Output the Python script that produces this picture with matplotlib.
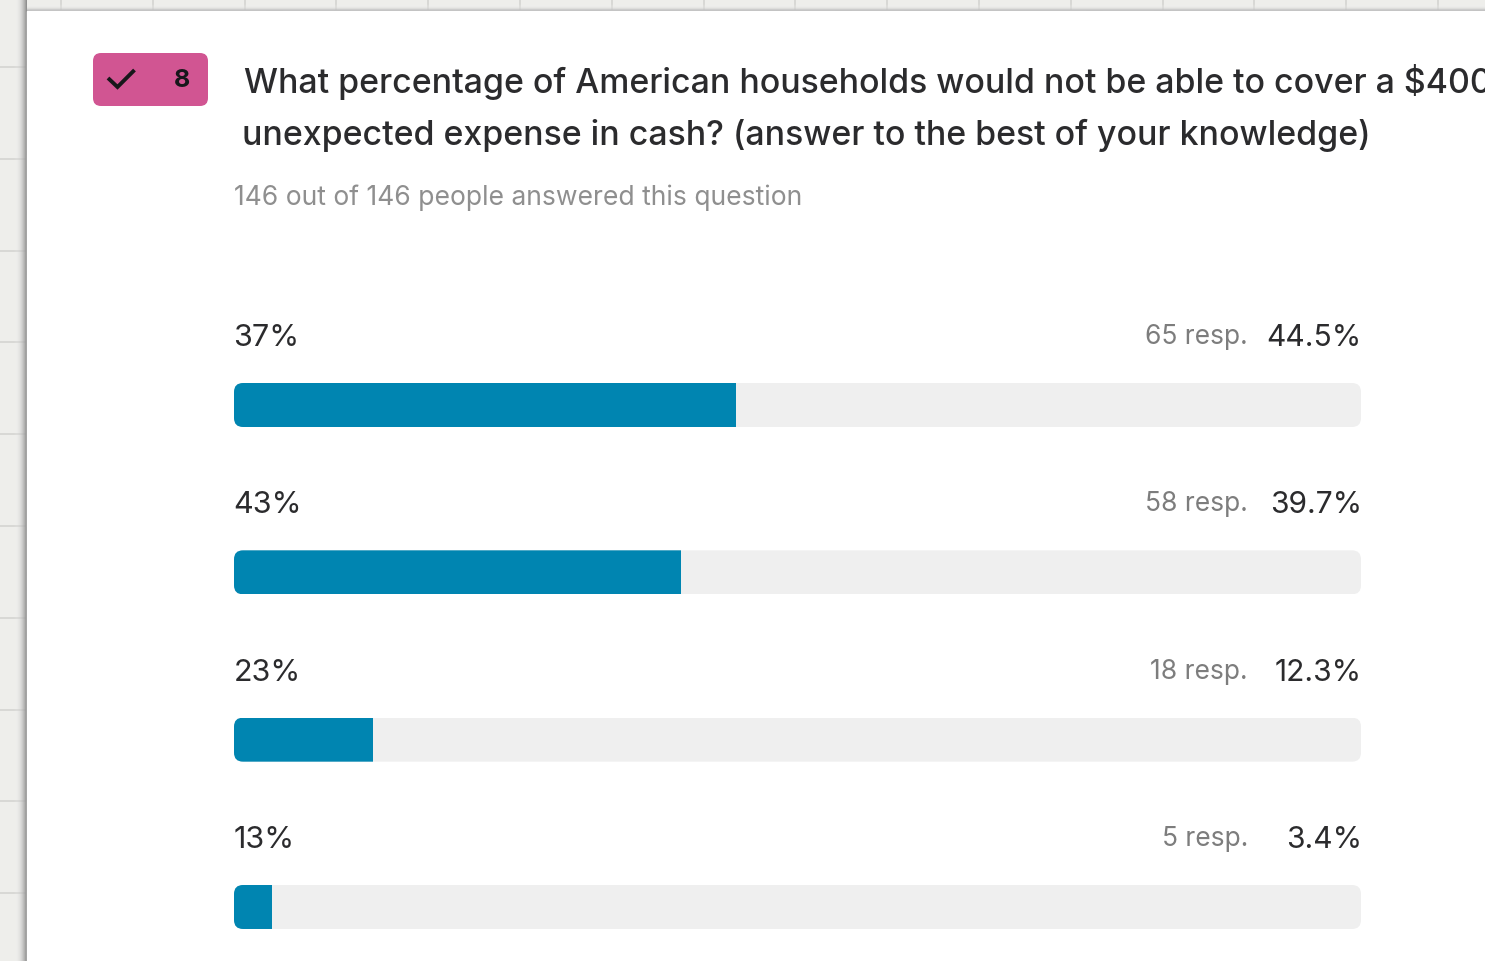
import numpy as np
import matplotlib
matplotlib.use("Agg")
import matplotlib.pyplot as plt
from matplotlib.patches import FancyBboxPatch, Rectangle

plt.rcParams['font.family'] = ['Inter', 'DejaVu Sans']

# Survey results
answers = ["37%", "43%", "23%", "13%"]
responses = [65, 58, 18, 5]
shares = [44.5, 39.7, 12.3, 3.4]
question = ["What percentage of American households would not be able to cover a $400",
            "unexpected expense in cash? (answer to the best of your knowledge)"]
subtitle = "146 out of 146 people answered this question"
question_number = "8"

W, H = 1485, 962
BAR_COLOR = "#0085b1"
TRACK_COLOR = "#efefef"
TEXT_COLOR = "#2b2b2d"
PINK = "#d15592"

fig = plt.figure(figsize=(W / 100, H / 100), dpi=100)

# page layer, measured in pixels from the top left
bg = fig.add_axes([0, 0, 1, 1])
bg.set_xlim(0, W)
bg.set_ylim(H, 0)
bg.axis("off")
bg.add_patch(Rectangle((0, 0), W, H, color="#eeeeeb", zorder=0))
for x in np.arange(61, W, 91.8):
    bg.plot([x, x], [0, 12], color="#d8d8d5", lw=1.4, zorder=1)
for y in np.arange(68, H, 91.8):
    bg.plot([0, 28], [y, y], color="#d8d8d5", lw=1.4, zorder=1)

# soft shadow around the card
left_shadow = np.linspace(0, 1, 14)[None, :] ** 1.2
bg.imshow(left_shadow, extent=(13, 27, H, 0), cmap="gray_r", vmin=0, vmax=2.3,
          alpha=left_shadow, aspect="auto", interpolation="bilinear", zorder=2)
top_shadow = np.linspace(0, 1, 8)[:, None] ** 1.5
bg.imshow(top_shadow, extent=(27, W, 12, 4), origin="upper", cmap="gray_r", vmin=0, vmax=3.5,
          alpha=top_shadow, aspect="auto", interpolation="bilinear", zorder=2)
bg.set_xlim(0, W)
bg.set_ylim(H, 0)

bg.add_patch(Rectangle((27, 12), W - 27, H - 11, color="white", zorder=3))

# question badge
bg.add_patch(FancyBboxPatch((100, 61), 101, 39, boxstyle="round,pad=7,rounding_size=8",
                            fc=PINK, ec="none", zorder=4))
bg.plot([108, 117.5, 134.5], [79, 88, 71], color="#17171a", lw=2.8, zorder=5,
        solid_capstyle="butt", solid_joinstyle="miter")
bg.text(182, 80.5, question_number, fontsize=18, fontweight="bold", color="#17171a",
        ha="center", va="center", zorder=5)

# question and answer count
bg.text(243.5, 81.5, question[0], fontsize=24.4, fontweight="medium", color=TEXT_COLOR,
        va="center", zorder=5)
bg.text(242.5, 135, question[1], fontsize=24.4, fontweight="medium", color=TEXT_COLOR,
        va="center", zorder=5)
bg.text(234, 198, subtitle, fontsize=19.05, color="#8f8f8f", va="center", zorder=5)

# bars: 0-100% spans the track width, one row every 167.33 px
ax = fig.add_axes([234 / W, 0, (1361 - 234) / W, (H - 322.3) / H])
ax.set_xlim(0, 100)
ax.set_ylim(3.323, -0.5)
ax.axis("off")
ax.patch.set_alpha(0)

for i, (answer, n, share) in enumerate(zip(answers, responses, shares)):
    track = ax.barh(i, 100, height=0.263, color=TRACK_COLOR, zorder=1)[0]
    fill = ax.barh(i, share, height=0.263, color=BAR_COLOR, zorder=2)[0]
    center = 406 + 167.33 * i
    # rounded ends come from clipping to the track outline
    outline = FancyBboxPatch((234 + 9, center - 22 + 9), 1127 - 18, 44 - 18,
                             boxstyle="round,pad=9,rounding_size=9",
                             transform=bg.transData, fc="none", ec="none")
    track.set_clip_path(outline)
    fill.set_clip_path(outline)

    ax.annotate(answer, (0, i), xytext=(-0.5, 68), textcoords="offset pixels", fontsize=22,
                color=TEXT_COLOR, va="center", ha="left", annotation_clip=False)
    ax.annotate(f"{share}%", (100, i), xytext=(1, 68), textcoords="offset pixels", fontsize=21.6,
                color=TEXT_COLOR, va="center", ha="right", annotation_clip=False)
    ax.annotate(f"{n} resp.", (100, i), xytext=(-113, 69), textcoords="offset pixels", fontsize=19,
                color="#7d7d7d", va="center", ha="right", annotation_clip=False)

fig.savefig("out.png", dpi=100)
